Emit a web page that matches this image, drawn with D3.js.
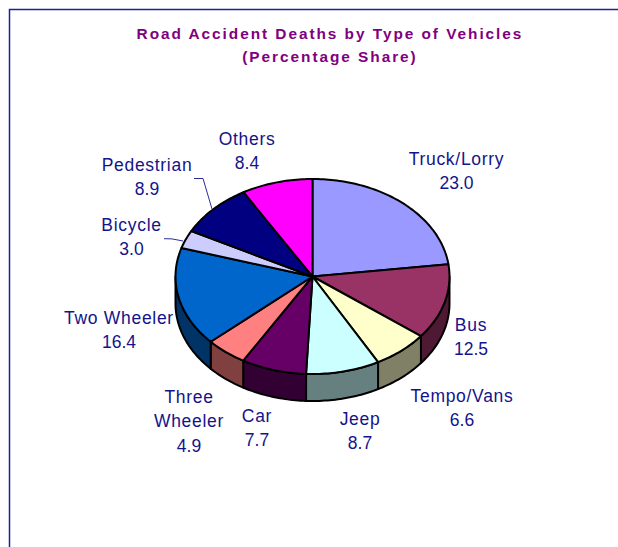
<!DOCTYPE html>
<html><head><meta charset="utf-8">
<script src="https://cdn.jsdelivr.net/npm/d3@7"></script>
<style>html,body{margin:0;padding:0;background:#fff}svg{display:block}text{font-family:"Liberation Sans",Arial,sans-serif}</style>
</head><body><svg id="c" width="618" height="547"></svg>
<script>
const categories = ["Truck/Lorry","Bus","Tempo/Vans","Jeep","Car","Three Wheeler","Two Wheeler","Bicycle","Pedestrian","Others"];
const values = [23.0,12.5,6.6,8.7,7.7,4.9,16.4,3.0,8.9,8.4];
const topColors = ["#9999ff","#993366","#ffffcc","#ccffff","#660066","#ff8080","#0066cc","#ccccff","#000080","#ff00ff"];
const sideColors = ["#4d4d80","#4d1933","#808066","#668080","#330033","#804040","#003366","#666680","#000040","#800080"];
const labelLines = [["Truck/Lorry","23.0"],["Bus","12.5"],["Tempo/Vans","6.6"],["Jeep","8.7"],["Car","7.7"],["Three","Wheeler","4.9"],["Two Wheeler","16.4"],["Bicycle","3.0"],["Pedestrian","8.9"],["Others","8.4"]];
const labelAnchors = [[456.5,165],[471,331],[462,402],[360,424.5],[257,422],[189,403],[119,324],[131.5,231],[147,171],[247,145]];
const titleLines = ["Road Accident Deaths by Type of Vehicles","(Percentage Share)"];
const leaders = [[[194,178.5],[203,178.5],[212,209]],[[164,238.7],[172,238.9],[183,241]]];

const svg = d3.select("#c");
const cx=312.5, cy=276.5, rx=137, ry=97.5, depth=27;
const sx=d3.scaleLinear().domain([-1,1]).range([cx-rx,cx+rx]);
const sy=d3.scaleLinear().domain([-1,1]).range([cy+ry,cy-ry]);
const pts=(a,b,dy)=>{const n=Math.max(2,Math.ceil((b-a)/0.02));return d3.range(n+1).map(i=>{const t=a+(b-a)*i/n;return [sx(Math.sin(t)),sy(Math.cos(t))+dy];});};
const line=d3.line().curve(d3.curveLinear);
const arcs=d3.pie().sort(null).value(d=>d)(values);

svg.append("path").attr("d",line([[618,9.5],[9.5,9.5],[9.5,547]])).attr("fill","none").attr("stroke","#1f1f9a").attr("stroke-width",1.5);

svg.selectAll(".title").data(titleLines).join("text").attr("class","title")
 .attr("x",330).attr("y",(d,i)=>39+i*22.5).attr("text-anchor","middle")
 .attr("font-size",15.4).attr("font-weight","bold").attr("letter-spacing",1.95).attr("fill","#800080").text(d=>d);

const P=Math.PI;
const sides=arcs.map((d,i)=>({i,a:Math.max(d.startAngle,P/2),b:Math.min(d.endAngle,3*P/2)})).filter(d=>d.b>d.a);
svg.selectAll(".side").data(sides).join("path").attr("class","side")
 .attr("d",d=>{const up=pts(d.a,d.b,0),lo=pts(d.a,d.b,depth).reverse();return line(up.concat(lo))+"Z";})
 .attr("fill",d=>sideColors[d.i]).attr("stroke","#000").attr("stroke-width",2).attr("stroke-linejoin","round");

svg.selectAll(".slice").data(arcs).join("path").attr("class","slice")
 .attr("d",d=>line([[cx,cy]].concat(pts(d.startAngle,d.endAngle,0)))+"Z")
 .attr("fill",(d,i)=>topColors[i]).attr("stroke","#000").attr("stroke-width",2).attr("stroke-linejoin","round");

svg.selectAll(".leader").data(leaders).join("path").attr("class","leader").attr("d",d=>line(d)).attr("fill","none").attr("stroke","#14148a").attr("stroke-width",0.9);

labelLines.forEach((ls,i)=>{
 svg.append("g").selectAll("text").data(ls).join("text")
  .attr("x",labelAnchors[i][0]).attr("y",(d,j)=>labelAnchors[i][1]+j*24.4).attr("text-anchor","middle")
  .attr("font-size",17.5).attr("letter-spacing",d=>/^[\d.]+$/.test(d)?0:0.7).attr("fill","#14148a").text(d=>d);
});
</script></body></html>
